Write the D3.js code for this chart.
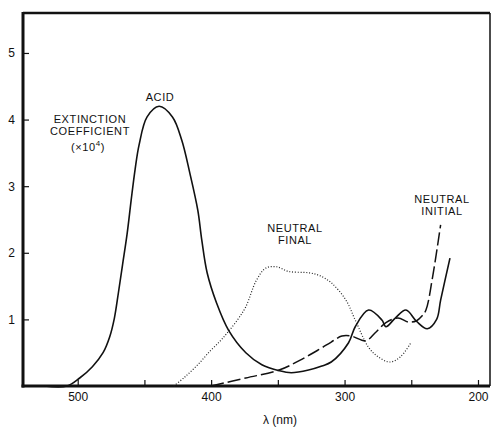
<!DOCTYPE html>
<html>
<head>
<meta charset="utf-8">
<script src="https://cdn.jsdelivr.net/npm/d3@7"></script>
<style>
  body { margin: 0; background: #fff; }
  svg text { font-family: "Liberation Sans", "DejaVu Sans", sans-serif; fill: #111; }
</style>
</head>
<body>
<svg id="chart"></svg>
<script>
// wavelength (nm), extinction coefficient (x10^4)
const acid = [
  [525, 0], [508, 0], [498.5, 0.12], [489, 0.29], [481, 0.5], [476, 0.74], [472.5, 1.02],
  [469.5, 1.4], [466.4, 1.82], [463, 2.28], [460, 2.78], [457, 3.25], [454, 3.62], [448, 4.04],
  [439, 4.2], [429, 4.04], [422, 3.69], [416, 3.2], [410, 2.64], [407, 2.19], [403, 1.7],
  [396, 1.25], [387, 0.84], [374, 0.5], [362, 0.32], [349, 0.23], [340, 0.2], [327, 0.24],
  [317, 0.3], [310, 0.36], [297, 0.65], [292, 0.89], [282, 1.14], [272, 0.99], [269, 0.89],
  [262, 1.02], [254, 1.14], [246, 0.97], [238, 0.86], [231, 1.0], [228, 1.29], [221, 1.92]
];
const neutralFinal = [
  [428, 0], [420, 0.13], [410, 0.32], [401, 0.52], [393, 0.68], [387, 0.82], [380, 1.0],
  [374, 1.19], [366, 1.59], [359, 1.77], [351, 1.79], [342, 1.72], [327, 1.7], [319, 1.66],
  [310, 1.55], [299, 1.29], [292, 0.99], [282, 0.58], [275, 0.44], [266, 0.36], [258, 0.44],
  [250, 0.66]
];
const neutralInitial = [
  [400, 0], [374, 0.12], [349, 0.24], [334, 0.38], [319, 0.55], [310, 0.66], [302, 0.75],
  [295, 0.75], [284, 0.68], [277, 0.8], [269, 0.95], [260, 1.02], [252, 0.96], [246, 0.98],
  [242, 1.05], [239, 1.14], [234, 1.64], [228, 2.42]
];
const xTicks = [500, 450, 400, 350, 300, 250, 200];
const xLabels = [500, 400, 300, 200];
const yTicks = [1, 2, 3, 4, 5];

const W = 493, H = 427;
const margin = { top: 13, right: 3, bottom: 41, left: 23 };
const width = W - margin.left - margin.right;
const height = H - margin.top - margin.bottom;

const svg = d3.select('#chart').attr('width', W).attr('height', H);
const g = svg.append('g').attr('transform', `translate(${margin.left},${margin.top})`);

const x = d3.scaleLinear().domain([541, 191]).range([0, width]);
const y = d3.scaleLinear().domain([0, 5.6]).range([height, 0]);

// axes (ticks point inward)
const xAxis = g.append('g')
  .attr('transform', `translate(0,${height})`)
  .call(d3.axisBottom(x).tickValues(xTicks).tickSize(-6).tickPadding(6)
    .tickFormat(d => xLabels.includes(d) ? d : ''));
const yAxis = g.append('g')
  .call(d3.axisLeft(y).tickValues(yTicks).tickSize(-6).tickPadding(8).tickFormat(d3.format('d')));
[xAxis, yAxis].forEach(a => {
  a.select('.domain').remove();
  a.selectAll('line').attr('stroke', '#111').attr('stroke-width', 1.2);
  a.selectAll('text').attr('font-size', 12).style('font-family', '"Liberation Sans", sans-serif');
});

// frame
g.append('line').attr('x1', 0).attr('x2', width).attr('y1', 0).attr('y2', 0)
  .attr('stroke', '#111').attr('stroke-width', 2.5);
g.append('line').attr('x1', width).attr('x2', width).attr('y1', 0).attr('y2', height)
  .attr('stroke', '#111').attr('stroke-width', 1.5);
g.append('line').attr('x1', 0).attr('x2', 0).attr('y1', -1).attr('y2', height + 1.5)
  .attr('stroke', '#111').attr('stroke-width', 3);
g.append('line').attr('x1', -1.5).attr('x2', width).attr('y1', height).attr('y2', height)
  .attr('stroke', '#111').attr('stroke-width', 3);

const line = d3.line()
  .x(d => x(d[0]))
  .y(d => y(d[1]))
  .curve(d3.curveCatmullRom.alpha(0.5));

g.append('path').datum(acid)
  .attr('fill', 'none').attr('stroke', '#111').attr('stroke-width', 1.6)
  .attr('d', line);
g.append('path').datum(neutralFinal)
  .attr('fill', 'none').attr('stroke', '#222').attr('stroke-width', 1.2)
  .attr('stroke-dasharray', '1 1.8')
  .attr('d', line);
g.append('path').datum(neutralInitial)
  .attr('fill', 'none').attr('stroke', '#111').attr('stroke-width', 1.5)
  .attr('stroke-dasharray', '13 4')
  .attr('d', line);

// annotations
const notes = [
  { lines: ['ACID'], x: 160, y: 101 },
  { lines: ['EXTINCTION', 'COEFFICIENT'], x: 90, y: 123 },
  { lines: ['NEUTRAL', 'FINAL'], x: 295, y: 232 },
  { lines: ['NEUTRAL', 'INITIAL'], x: 442, y: 203 }
];
const noteText = svg.selectAll('text.note').data(notes).enter().append('text')
  .attr('class', 'note')
  .attr('x', d => d.x).attr('y', d => d.y)
  .attr('text-anchor', 'middle').attr('font-size', 11)
  .attr('letter-spacing', 0.6);
noteText.selectAll('tspan').data(d => d.lines.map(t => ({ t, x: d.x }))).enter().append('tspan')
  .attr('x', d => d.x).attr('dy', (d, i) => i === 0 ? 0 : 12)
  .text(d => d.t);

const sci = svg.append('text').attr('x', 88).attr('y', 151)
  .attr('text-anchor', 'middle').attr('font-size', 11).attr('letter-spacing', 0.6);
sci.append('tspan').text('(×10');
sci.append('tspan').attr('dy', -5).attr('font-size', 8).text('4');
sci.append('tspan').attr('dy', 5).text(')');

svg.append('text').attr('x', 280).attr('y', 424)
  .attr('text-anchor', 'middle').attr('font-size', 12)
  .text('λ (nm)');
</script>
</body>
</html>
